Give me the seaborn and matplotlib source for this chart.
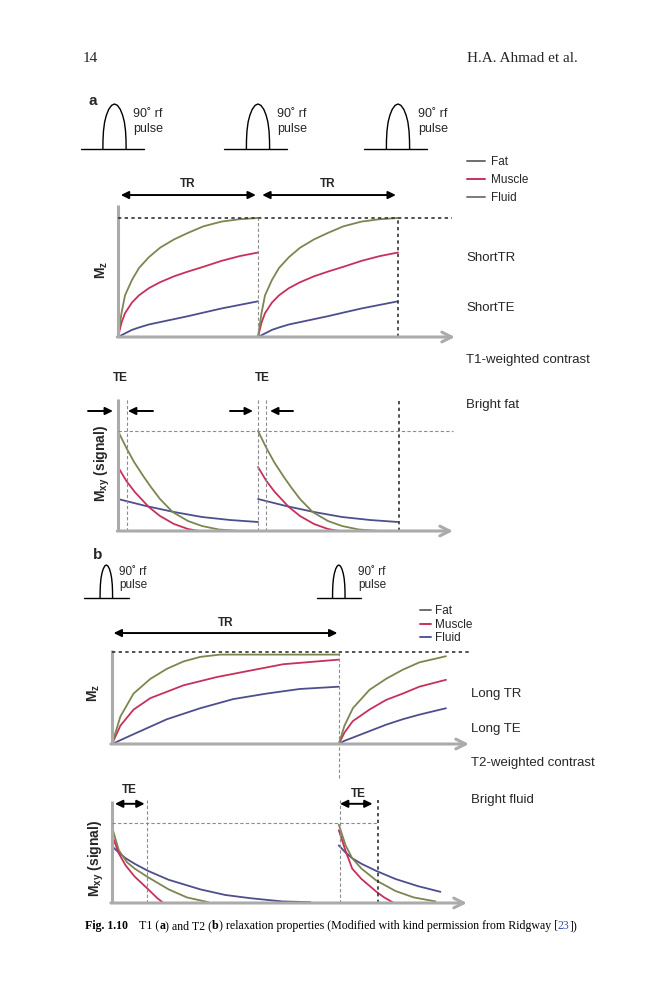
import numpy as np
import matplotlib
matplotlib.use("Agg")
import matplotlib.pyplot as plt
from matplotlib.lines import Line2D
import seaborn as sns

# ============================
# DATA (time in units of TR, signal relative to M0)
# ============================

# --- (a) T1 weighting: Mz recovery during one short TR (repeated twice) ---
a_mz_t = [0, 0.025, 0.05, 0.1, 0.15, 0.22, 0.3, 0.4, 0.5, 0.61, 0.74, 0.87, 1.0]
a_mz_fat = [0, 0.2, 0.35, 0.48, 0.58, 0.67, 0.75, 0.82, 0.875, 0.93, 0.97, 0.99, 1.0]
a_mz_muscle = [0, 0.12, 0.2, 0.29, 0.35, 0.41, 0.46, 0.51, 0.55, 0.59, 0.64, 0.68, 0.71]
a_mz_fluid = [0, 0.015, 0.03, 0.06, 0.08, 0.105, 0.125, 0.15, 0.175, 0.205, 0.24, 0.27, 0.30]
a_runs = [0, 1]

# --- (a) Mxy decay after each pulse ---
a_xy_fat_t = [0, 0.06, 0.115, 0.18, 0.235, 0.3, 0.39, 0.5, 0.6, 0.72, 0.87]
a_xy_fat = [1.0, 0.83, 0.69, 0.55, 0.44, 0.32, 0.19, 0.1, 0.05, 0.015, 0.0]
a_xy_muscle_t = [0, 0.06, 0.12, 0.22, 0.3, 0.4, 0.5, 0.58]
a_xy_muscle = [0.64, 0.5, 0.39, 0.24, 0.15, 0.07, 0.02, 0.0]
a_xy_fluid_t = [0, 0.2, 0.4, 0.6, 0.8, 1.0]
a_xy_fluid = [0.32, 0.25, 0.19, 0.14, 0.11, 0.09]

# --- (b) T2 weighting: Mz recovery, long TR then start of the next one ---
b_mz_fat_t = [0, 0.037, 0.095, 0.169, 0.242, 0.315, 0.389, 0.477, 1.0]
b_mz_fat = [0, 0.3, 0.55, 0.71, 0.82, 0.9, 0.95, 0.975, 0.975]
b_mz_muscle_t = [0, 0.037, 0.095, 0.169, 0.315, 0.462, 0.608, 0.755, 1.0]
b_mz_muscle = [0, 0.2, 0.375, 0.5, 0.64, 0.73, 0.8, 0.87, 0.92]
b_mz_fluid_t = [0, 0.095, 0.242, 0.389, 0.535, 0.682, 0.828, 1.0]
b_mz_fluid = [0, 0.107, 0.27, 0.39, 0.49, 0.55, 0.60, 0.625]

b_mz2_t = [0, 0.025, 0.062, 0.135, 0.208, 0.282, 0.355, 0.4725]
b_mz2_fat = [0, 0.2, 0.39, 0.59, 0.71, 0.81, 0.89, 0.957]
b_mz2_muscle = [0, 0.125, 0.25, 0.375, 0.48, 0.55, 0.625, 0.70]
b_mz2_fluid = [0, 0.035, 0.07, 0.14, 0.21, 0.27, 0.32, 0.39]

# --- (b) Mxy decay ---
b_xy_fat_t = [0, 0.03, 0.066, 0.1, 0.16, 0.25, 0.33, 0.425]
b_xy_fat = [0.95, 0.66, 0.51, 0.43, 0.32, 0.17, 0.07, 0.01]
b_xy_muscle_t = [0, 0.03, 0.06, 0.1, 0.16, 0.2, 0.227]
b_xy_muscle = [0.85, 0.62, 0.47, 0.33, 0.17, 0.06, 0.0]
b_xy_fluid_t = [0, 0.03, 0.06, 0.1, 0.16, 0.25, 0.39, 0.5, 0.61, 0.75, 0.875]
b_xy_fluid = [0.71, 0.63, 0.56, 0.49, 0.40, 0.29, 0.17, 0.10, 0.06, 0.02, 0.01]

b_xy2_fat_t = [0, 0.03, 0.059, 0.1, 0.166, 0.25, 0.33, 0.426]
b_xy2_fat = [0.98, 0.72, 0.56, 0.43, 0.28, 0.15, 0.07, 0.02]
b_xy2_muscle_t = [0, 0.03, 0.059, 0.1, 0.166, 0.2, 0.243]
b_xy2_muscle = [0.91, 0.65, 0.43, 0.3, 0.14, 0.07, 0.0]
b_xy2_fluid_t = [0, 0.03, 0.059, 0.1, 0.166, 0.25, 0.35, 0.448]
b_xy2_fluid = [0.72, 0.63, 0.56, 0.49, 0.40, 0.30, 0.21, 0.14]

# --- rf pulses (shape of the arch, normalised) ---
pulse_shape_x = [-1, -0.99, -0.95, -0.85, -0.7, -0.5, -0.25, 0, 0.25, 0.5, 0.7, 0.85, 0.95, 0.99, 1]
pulse_shape_y = [0, 0.2, 0.4, 0.6, 0.75, 0.88, 0.97, 1, 0.97, 0.88, 0.75, 0.6, 0.4, 0.2, 0]
a_pulse_times = [-0.025, 1.0, 2.0]
b_pulse_times = [-0.025, 1.0]

tissues = ["Fat", "Muscle", "Fluid"]

# ============================
# STYLE
# ============================
sns.set_style("white")
plt.rcParams["font.family"] = ["Liberation Sans", "DejaVu Sans"]
plt.rcParams["mathtext.fontset"] = "custom"
plt.rcParams["mathtext.rm"] = "Liberation Sans"
plt.rcParams["mathtext.bf"] = "Liberation Sans:bold"
plt.rcParams["mathtext.it"] = "Liberation Sans:italic"

FAT = "#7b8650"
MUSCLE = "#c8305c"
FLUID = "#4d4f8c"
AXIS = "#ababab"
GRAYDASH = "#8c8c8c"
DARKDOT = "#333333"
SERIF = ["Liberation Serif", "DejaVu Serif"]

W, H = 659, 1000
fig = plt.figure(figsize=(W / 100, H / 100), dpi=100)


def px_axes(left, top, right, bottom, x_unit, y_unit):
    # axes placed in pixel coords; data units: x_unit px per TR, y_unit px per M0
    ax = fig.add_axes([left / W, 1 - bottom / H, (right - left) / W, (bottom - top) / H])
    ax.axis("off")
    lims = ((0, (right - left) / x_unit), (0, (bottom - top) / y_unit))
    return ax, lims


def ftext(x, y, s, **kw):
    return fig.text(x / W, 1 - y / H, s, **kw)


def frame(ax, y_top, x_end):
    ax.plot([0, 0], [0, y_top], color=AXIS, lw=2.2, solid_capstyle="butt", clip_on=False)
    ax.annotate("", xy=(x_end, 0), xytext=(-0.005, 0), annotation_clip=False,
                arrowprops=dict(arrowstyle="->,head_length=0.7,head_width=0.35",
                                color=AXIS, lw=2.2, shrinkA=0, shrinkB=0))


def vline(ax, x, y0, y1, dark=False):
    if dark:
        ax.plot([x, x], [y0, y1], color=DARKDOT, lw=1.2, ls=(0, (2, 2)), clip_on=False)
    else:
        ax.plot([x, x], [y0, y1], color=GRAYDASH, lw=0.8, ls=(0, (3, 2)), clip_on=False)


def hline(ax, y, x0, x1, dark=False):
    if dark:
        ax.plot([x0, x1], [y, y], color=DARKDOT, lw=1.2, ls=(0, (2, 2)), clip_on=False)
    else:
        ax.plot([x0, x1], [y, y], color=GRAYDASH, lw=0.8, ls=(0, (3, 2)), clip_on=False)


def arrow(ax, x0, x1, y, style="-|>"):
    ax.annotate("", xy=(x1, y), xytext=(x0, y), annotation_clip=False,
                arrowprops=dict(arrowstyle=style + ",head_length=0.45,head_width=0.22",
                                color="black", lw=1.4, shrinkA=0, shrinkB=0))


def curve(ax, t, v, color, offset=0.0):
    sns.lineplot(x=np.asarray(t) + offset, y=v, ax=ax, color=color, linewidth=1.3,
                 estimator=None)


def pulses(ax, times, half_width, base_left, base_right):
    for t0 in times:
        ax.plot([t0 - base_left, t0 + base_right], [0, 0], color="black", lw=1.0)
        sns.lineplot(x=t0 + np.asarray(pulse_shape_x) * half_width, y=pulse_shape_y, ax=ax,
                     color="black", linewidth=1.0, sort=False, estimator=None)


def finish(ax, lims):
    ax.set_xlim(*lims[0])
    ax.set_ylim(*lims[1])
    for ln in ax.lines:
        ln.set_clip_on(False)


# ============================
# HEADER
# ============================
ftext(83, 59, "14", family=SERIF, fontsize=11, va="center", ha="left")
ftext(578, 59, "H.A. Ahmad et al.", family=SERIF, fontsize=11, va="center", ha="right")

# ============================
# PANEL (a)
# ============================
ftext(93, 101, "a", fontsize=11, fontweight="bold", ha="center", va="center")

axp, lp = px_axes(118, 95, 460, 149, 140, 45)
pulses(axp, a_pulse_times, 0.083, 0.24, 0.21)
finish(axp, lp)
for x in (133, 277, 418):
    ftext(x, 121.5, "90˚ rf\npulse", fontsize=9, ha="left", va="center", linespacing=1.25)

fig.legend(handles=[Line2D([], [], color=c, lw=1.4) for c in ("#6e6e6e", MUSCLE, "#7a7a7a")],
           labels=tissues, loc="upper left", bbox_to_anchor=(467 / W, 1 - 156 / H),
           frameon=False, fontsize=8.5, handlelength=1.55, handletextpad=0.45,
           labelspacing=0.5, borderpad=0, borderaxespad=0)

# Mz, short TR
ax, lims = px_axes(118, 175, 460, 337, 140, 119)
for off in a_runs:
    curve(ax, a_mz_t, a_mz_fluid, FLUID, off)
    curve(ax, a_mz_t, a_mz_muscle, MUSCLE, off)
    curve(ax, a_mz_t, a_mz_fat, FAT, off)
frame(ax, 1.11, 2.407)
hline(ax, 1.0, 0, 2.386, dark=True)
vline(ax, 1.0, 0, 1.0)
vline(ax, 2.0, 0, 1.0, dark=True)
arrow(ax, 0.02, 0.985, 1.193, "<|-|>")
arrow(ax, 1.03, 1.985, 1.193, "<|-|>")
ax.text(0.5, 1.286, "TR", fontsize=8.5, fontweight="bold", ha="center", va="center")
ax.text(1.5, 1.286, "TR", fontsize=8.5, fontweight="bold", ha="center", va="center")
finish(ax, lims)
ftext(102, 270, r"$\mathbf{M_z}$", fontsize=10, rotation=90, ha="center", va="center")

# Mxy, short TE
ax, lims = px_axes(118, 370, 460, 531, 140, 100)
for off in a_runs:
    curve(ax, a_xy_fluid_t, a_xy_fluid, FLUID, off)
    curve(ax, a_xy_muscle_t, a_xy_muscle, MUSCLE, off)
    curve(ax, a_xy_fat_t, a_xy_fat, FAT, off)
frame(ax, 1.32, 2.393)
hline(ax, 1.0, 0, 2.393)
for x in (0.064, 1.0, 1.055):
    vline(ax, x, 0, 1.32)
vline(ax, 2.007, 0, 1.32, dark=True)
arrow(ax, -0.214, -0.036, 1.2)
arrow(ax, 0.25, 0.071, 1.2)
arrow(ax, 0.8, 0.964, 1.2)
arrow(ax, 1.25, 1.086, 1.2)
ax.text(0.014, 1.53, "TE", fontsize=8.5, fontweight="bold", ha="center", va="center")
ax.text(1.03, 1.53, "TE", fontsize=8.5, fontweight="bold", ha="center", va="center")
finish(ax, lims)
ftext(102, 463, r"$\mathbf{M_{xy}}$ (signal)", fontsize=10, fontweight="bold",
      rotation=90, ha="center", va="center")

for y, s in [(258, "ShortTR"), (308, "ShortTE"), (360, "T1-weighted contrast"), (405, "Bright fat")]:
    ftext(466, y, s, fontsize=9.5, ha="left", va="center")

# ============================
# PANEL (b)
# ============================
ftext(97.5, 555, "b", fontsize=11, fontweight="bold", ha="center", va="center")

axp, lp = px_axes(112, 560, 475, 598, 226.8, 33)
pulses(axp, b_pulse_times, 0.0276, 0.097, 0.1)
finish(axp, lp)
for x in (119, 358):
    ftext(x, 578.5, "90˚ rf\npulse", fontsize=8.5, ha="left", va="center", linespacing=1.15)

fig.legend(handles=[Line2D([], [], color=c, lw=1.4) for c in ("#6e6e6e", MUSCLE, "#55579a")],
           labels=tissues, loc="upper left", bbox_to_anchor=(420 / W, 1 - 605.5 / H),
           frameon=False, fontsize=8.5, handlelength=0.9, handletextpad=0.4,
           labelspacing=0.12, borderpad=0, borderaxespad=0)

# Mz, long TR
ax, lims = px_axes(112, 615, 475, 744, 226.8, 91.7)
curve(ax, b_mz_fluid_t, b_mz_fluid, FLUID)
curve(ax, b_mz_muscle_t, b_mz_muscle, MUSCLE)
curve(ax, b_mz_fat_t, b_mz_fat, FAT)
curve(ax, b_mz2_t, b_mz2_fluid, FLUID, 1.0)
curve(ax, b_mz2_t, b_mz2_muscle, MUSCLE, 1.0)
curve(ax, b_mz2_t, b_mz2_fat, FAT, 1.0)
frame(ax, 1.025, 1.574)
hline(ax, 1.0, 0, 1.583, dark=True)
vline(ax, 1.0, -0.37, 1.0)
arrow(ax, 0.007, 0.994, 1.21, "<|-|>")
ax.text(0.5, 1.32, "TR", fontsize=8.5, fontweight="bold", ha="center", va="center")
finish(ax, lims)
ftext(94, 693, r"$\mathbf{M_z}$", fontsize=10, rotation=90, ha="center", va="center")

# Mxy, long TE
ax, lims = px_axes(112, 780, 475, 903, 226.8, 80)
curve(ax, b_xy_fluid_t, b_xy_fluid, FLUID)
curve(ax, b_xy_fat_t, b_xy_fat, FAT)
curve(ax, b_xy_muscle_t, b_xy_muscle, MUSCLE)
curve(ax, b_xy2_fluid_t, b_xy2_fluid, FLUID, 1.0)
curve(ax, b_xy2_fat_t, b_xy2_fat, FAT, 1.0)
curve(ax, b_xy2_muscle_t, b_xy2_muscle, MUSCLE, 1.0)
frame(ax, 1.27, 1.565)
hline(ax, 1.0, 0, 1.173)
vline(ax, 0.153, 0, 1.29)
vline(ax, 1.005, 0, 1.29)
vline(ax, 1.171, 0, 1.29, dark=True)
arrow(ax, 0.013, 0.144, 1.24, "<|-|>")
arrow(ax, 1.005, 1.149, 1.24, "<|-|>")
ax.text(0.078, 1.41, "TE", fontsize=8.5, fontweight="bold", ha="center", va="center")
ax.text(1.085, 1.36, "TE", fontsize=8.5, fontweight="bold", ha="center", va="center")
finish(ax, lims)
ftext(96, 858, r"$\mathbf{M_{xy}}$ (signal)", fontsize=10, fontweight="bold",
      rotation=90, ha="center", va="center")

for y, s in [(694, "Long TR"), (729, "Long TE"), (763, "T2-weighted contrast"), (800, "Bright fluid")]:
    ftext(471, y, s, fontsize=9.5, ha="left", va="center")

# ============================
# CAPTION (mixed bold / regular / link colour)
# ============================
renderer = fig.canvas.get_renderer()
caption_runs = [
    ("Fig. 1.10", "bold", "black", 0),
    ("T1 (", "normal", "black", 11),
    ("a", "bold", "black", 0),
    (") and T2 (", "normal", "black", 0),
    ("b", "bold", "black", 0),
    (") relaxation properties (Modified with kind permission from Ridgway [", "normal", "black", 0),
    ("23", "normal", "#3355aa", 0),
    ("])", "normal", "black", 0),
]
x = 85
for s, weight, color, gap in caption_runs:
    x += gap
    t = ftext(x, 929, s, family=SERIF, fontsize=8.6, fontweight=weight, color=color,
              ha="left", va="baseline")
    x += t.get_window_extent(renderer).width

fig.savefig("out.png", dpi=100)
